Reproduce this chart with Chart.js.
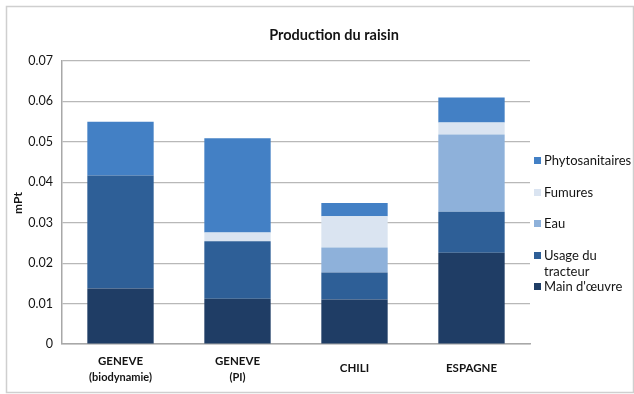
<!DOCTYPE html>
<html lang="fr">
<head>
<meta charset="utf-8">
<title>Production du raisin</title>
<script src="https://cdn.jsdelivr.net/npm/chart.js@4.4.1/dist/chart.umd.min.js"></script>
<style>
  html, body { margin: 0; padding: 0; background: #ffffff; }
  #wrap { width: 634px; height: 394px; }
</style>
</head>
<body>
<div id="wrap"><canvas id="chart" width="634" height="394"></canvas></div>
<script>
// Sites compared
const categories = [
  ['GENEVE', '(biodynamie)'],
  ['GENEVE', '(PI)'],
  ['CHILI'],
  ['ESPAGNE']
];

// Impact contributions (mPt), stacked bottom to top
const mainOeuvre     = [0.0137, 0.0112, 0.0110, 0.0226];
const usageTracteur  = [0.0280, 0.0142, 0.0067, 0.0101];
const eau            = [0.0000, 0.0000, 0.0062, 0.0191];
const fumures        = [0.0000, 0.0022, 0.0077, 0.0030];
const phytosanitaires= [0.0133, 0.0233, 0.0033, 0.0062];

// Y axis ticks
const yTicks = [0, 0.01, 0.02, 0.03, 0.04, 0.05, 0.06, 0.07];

const FONT = 'Lato, "Liberation Sans", sans-serif';
const INK = '#141414';

const datasets = [
  { label: "Main d'œuvre",            legend: ["Main d'œuvre"],         data: mainOeuvre,      backgroundColor: '#1f3d65' },
  { label: 'Usage du tracteur',       legend: ['Usage du', 'tracteur'], data: usageTracteur,   backgroundColor: '#2e5f97' },
  { label: 'Eau',                     legend: ['Eau'],                  data: eau,             backgroundColor: '#8eb1da' },
  { label: 'Fumures',                 legend: ['Fumures'],              data: fumures,         backgroundColor: '#dae4f1' },
  { label: 'Phytosanitaires',         legend: ['Phytosanitaires'],      data: phytosanitaires, backgroundColor: '#4380c5' }
].map(d => Object.assign(d, { borderWidth: 0, barPercentage: 0.567, categoryPercentage: 1 }));

// Frame, title, axis title, category labels and legend
const decorations = {
  id: 'decorations',
  afterDraw(chart) {
    const ctx = chart.ctx;
    const x = chart.scales.x;
    ctx.save();

    // outer frame
    ctx.strokeStyle = '#cfcfcf';
    ctx.lineWidth = 1.5;
    ctx.strokeRect(6.5, 6.5, 627, 386);

    // title
    ctx.fillStyle = INK;
    ctx.font = 'bold 14.5px ' + FONT;
    ctx.textAlign = 'center';
    ctx.textBaseline = 'middle';
    ctx.fillText('Production du raisin', 334, 35);

    // y axis title
    ctx.save();
    ctx.translate(18, 203);
    ctx.rotate(-Math.PI / 2);
    ctx.font = 'bold 12px ' + FONT;
    ctx.fillText('mPt', 0, 0);
    ctx.restore();

    // category labels
    categories.forEach((lines, i) => {
      const cx = x.getPixelForValue(i);
      ctx.font = 'bold 11.5px ' + FONT;
      if (lines.length === 1) {
        ctx.fillText(lines[0], cx, 368.5);
      } else {
        ctx.fillText(lines[0], cx, 361);
        ctx.font = 'bold 11px ' + FONT;
        ctx.fillText(lines[1], cx, 377.5);
      }
    });

    // legend (top entry is the top of the stack)
    ctx.font = '13px ' + FONT;
    ctx.textAlign = 'left';
    const rowY = [287, 256, 224, 193, 161];
    chart.data.datasets.forEach((ds, i) => {
      const y = rowY[i];
      ctx.fillStyle = ds.backgroundColor;
      ctx.fillRect(534, y - 4, 7, 7);
      ctx.fillStyle = INK;
      ds.legend.forEach((t, k) => ctx.fillText(t, 544, y + k * 15.5));
    });

    ctx.restore();
  }
};

new Chart(document.getElementById('chart'), {
  type: 'bar',
  data: { labels: categories.map(c => c.join(' ')), datasets },
  options: {
    responsive: false,
    animation: false,
    layout: { padding: { left: 0, right: 104, top: 61, bottom: 50 } },
    plugins: {
      legend: { display: false },
      title: { display: false },
      tooltip: { enabled: false }
    },
    scales: {
      x: {
        stacked: true,
        grid: { display: false, drawTicks: false },
        border: { display: true, color: '#a8a8a8', width: 1.5 },
        ticks: { display: false },
        afterFit(scale) { scale.height = 0; }
      },
      y: {
        stacked: true,
        min: 0,
        max: 0.07,
        afterBuildTicks(scale) { scale.ticks = yTicks.map(v => ({ value: v })); },
        ticks: {
          padding: 9,
          color: INK,
          font: { family: FONT, size: 12.5 },
          callback: v => (v === 0 ? '0' : v.toFixed(2))
        },
        grid: { color: '#b8b8b8', lineWidth: 1.2, drawTicks: false },
        border: { display: true, color: '#a8a8a8', width: 1.5 },
        afterFit(scale) { scale.width = 62; }
      }
    }
  },
  plugins: [decorations]
});
</script>
</body>
</html>
